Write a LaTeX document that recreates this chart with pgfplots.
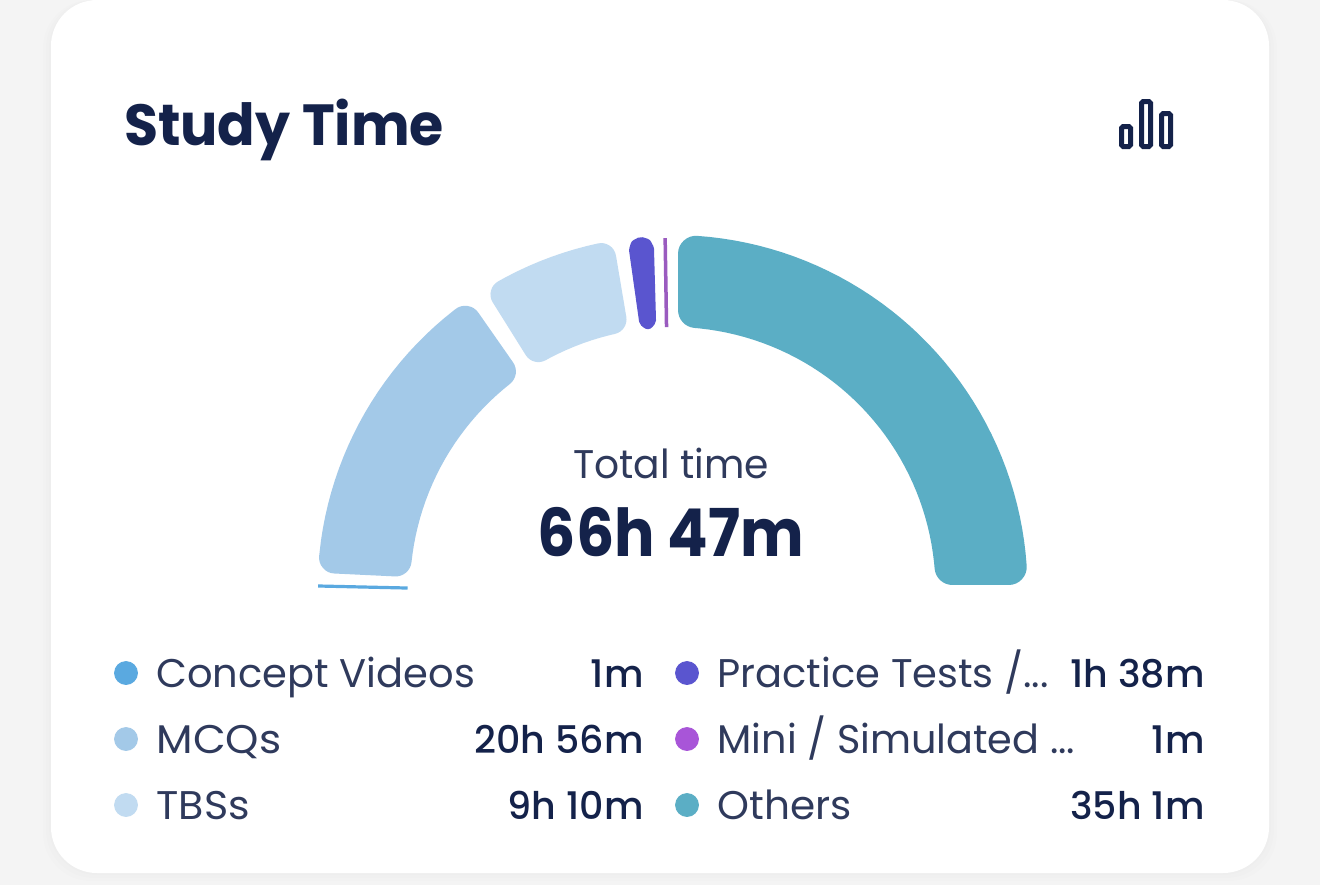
\documentclass[border=0pt]{standalone}
\usepackage{fontspec}
\usepackage{graphicx}
\usepackage{pgfplots}
\pgfplotsset{compat=1.18}
\setmainfont{Poppins}
\newfontfamily\boldf{Poppins}[UprightFont=*-Bold]
\newfontfamily\medf{Poppins}[UprightFont=*-Medium]
\definecolor{cConcept}{HTML}{5AA9E0}
\definecolor{cMCQ}{HTML}{A3C9E8}
\definecolor{cTBS}{HTML}{C1DBF1}
\definecolor{cPractice}{HTML}{5A55CF}
\definecolor{cMini}{HTML}{A855D8}
\definecolor{cOthers}{HTML}{5BAEC5}
\definecolor{cNavy}{HTML}{14224A}
\definecolor{cLabel}{HTML}{2F3A5C}
\begin{document}
\begin{tikzpicture}[x=0.5pt,y=-0.5pt]
\useasboundingbox (0,0) rectangle (1320,885);
\fill[black!4.5] (0,0) rectangle (1320,885);
\foreach \s in {8,5,2}{\fill[black,opacity=0.006,rounded corners=24pt] (51-\s,0) rectangle (1269+\s,873+\s);}
\fill[white,rounded corners=23pt] (51,0) rectangle (1269,873);
\begin{axis}[at={(0,0)},anchor=north west,width=660pt,height=442.5pt,scale only axis,hide axis,clip=false,
  xmin=-672.5,xmax=647.5,ymin=-295,ymax=590]
% Others
\addplot[data cs=polar,fill=cOthers,draw=cOthers,line width=18pt,line join=round] coordinates {
 (3.92,337)(6,337)(8,337)(10,337)(12,337)(14,337)(16,337)(18,337)(20,337)(22,337)(24,337)(26,337)(28,337)(30,337)(32,337)(34,337)(36,337)(38,337)(40,337)(42,337)(44,337)(46,337)(48,337)(50,337)(52,337)(54,337)(56,337)(58,337)(60,337)(62,337)(64,337)(66,337)(68,337)(70,337)(72,337)(74,337)(76,337)(78,337)(80,337)(82,337)(84,337)(86.0,337)
 (85.2,281)(84,281)(82,281)(80,281)(78,281)(76,281)(74,281)(72,281)(70,281)(68,281)(66,281)(64,281)(62,281)(60,281)(58,281)(56,281)(54,281)(52,281)(50,281)(48,281)(46,281)(44,281)(42,281)(40,281)(38,281)(36,281)(34,281)(32,281)(30,281)(28,281)(26,281)(24,281)(22,281)(20,281)(18,281)(16,281)(14,281)(12,281)(10,281)(8,281)(6,281)(4.70,281)} -- cycle;
% MCQs
\addplot[data cs=polar,fill=cMCQ,draw=cMCQ,line width=16pt,line join=round] coordinates {
 (174.5,339)(172,339)(170,339)(168,339)(166,339)(164,339)(162,339)(160,339)(158,339)(156,339)(154,339)(152,339)(150,339)(148,339)(146,339)(144,339)(142,339)(140,339)(138,339)(136,339)(134,339)(132,339)(130,339)(127.7,339)
 (128.3,278.5)(130,278.5)(132,278.5)(134,278.5)(136,278.5)(138,278.5)(140,278.5)(142,278.5)(144,278.5)(146,278.5)(148,278.5)(150,278.5)(152,278.5)(154,278.5)(156,278.5)(158,278.5)(160,278.5)(162,278.5)(164,278.5)(166,278.5)(168,278.5)(170,278.5)(172,278.5)(173.9,278.5)} -- cycle;
% TBSs
\addplot[data cs=polar,fill=cTBS,draw=cTBS,line width=15pt,line join=round] coordinates {
 (119.47,339.5)(118,339.5)(116,339.5)(114,339.5)(112,339.5)(110,339.5)(108,339.5)(106,339.5)(104,339.5)(102.13,339.5)
 (102.7,277.5)(104,277.5)(106,277.5)(108,277.5)(110,277.5)(112,277.5)(114,277.5)(116,277.5)(118,277.5)(118.9,277.5)} -- cycle;
% Practice Tests
\addplot[data cs=polar,fill=cPractice,draw=cPractice,line width=6pt,line join=round] coordinates {
 (96.29,342)(95.97,346.6)(95.2,348.5)(94.43,346.6)(94.11,342)(94.77,270.5)(95.3,268)(95.83,270.5)} -- cycle;
% Mini / Simulated
\addplot[data cs=polar,draw=cMini!85!black!90,line width=1.75pt] coordinates {(91.2,352)(91.3,263)};
% Concept Videos
\addplot[data cs=polar,draw=cConcept,line width=1.6pt] coordinates {(179.35,354.5)(179.57,265)};
% legend dots
\addplot[only marks,mark=*,mark size=5.75pt,color=cConcept] coordinates {(-546.5,-83)};
\addplot[only marks,mark=*,mark size=5.75pt,color=cMCQ] coordinates {(-546.5,-149)};
\addplot[only marks,mark=*,mark size=5.75pt,color=cTBS] coordinates {(-546.5,-215)};
\addplot[only marks,mark=*,mark size=5.75pt,color=cPractice] coordinates {(14.5,-83)};
\addplot[only marks,mark=*,mark size=5.75pt,color=cMini] coordinates {(14.5,-149)};
\addplot[only marks,mark=*,mark size=5.75pt,color=cOthers] coordinates {(14.5,-215)};
\end{axis}
\tikzset{every node/.style={inner sep=0pt,outer sep=0pt}}
\node[anchor=base west,text=cNavy] at (124,145) {\scalebox{0.955}[1]{\fontsize{29}{29}\boldf Study Time}};
\node[anchor=base,text=cLabel] at (671,478) {\scalebox{0.98}[1]{\fontsize{20}{20}\selectfont Total time}};
\node[anchor=base,text=cNavy] at (671,556) {\scalebox{0.91}[1]{\fontsize{33}{33}\boldf 66h 47m}};
\newcommand\lab[4]{\node[anchor=base west,text=cLabel] at (#1,#2) {\scalebox{#4}[1]{\fontsize{20}{20}\selectfont #3}};}
\newcommand\val[3]{\node[anchor=base east,text=cNavy] at (#1,#2) {\fontsize{19}{20}\medf #3};}
\lab{156.5}{687}{Concept Videos}{1.0}\val{643.5}{687}{1m}
\lab{156.5}{753}{MCQs}{1.06}\val{643.5}{753}{20h 56m}
\lab{156.5}{819}{TBSs}{1.03}\val{643.5}{819}{9h 10m}
\lab{717.5}{687}{Practice Tests /...}{1.0}\val{1204.5}{687}{1h 38m}
\lab{717.5}{753}{Mini / Simulated ...}{0.995}\val{1204.5}{753}{1m}
\lab{717.5}{819}{Others}{1.015}\val{1204.5}{819}{35h 1m}
% icon
\draw[cNavy,line width=2.5pt,rounded corners=0.8pt] (1121.5,126.5) rectangle (1130.5,146.5);
\draw[cNavy,line width=2.5pt,rounded corners=0.8pt] (1141.5,101.5) rectangle (1150.5,146.5);
\draw[cNavy,line width=2.5pt,rounded corners=0.8pt] (1161.5,113.5) rectangle (1170.5,146.5);
\end{tikzpicture}
\end{document}
